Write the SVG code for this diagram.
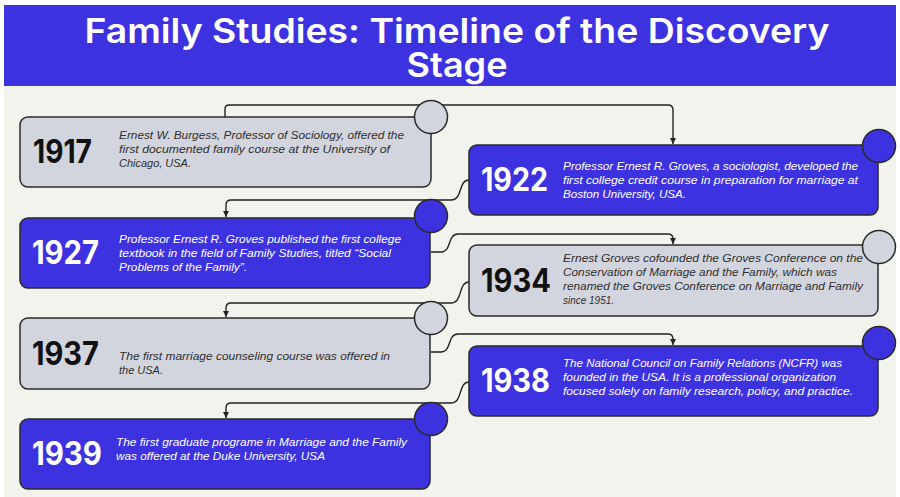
<svg xmlns="http://www.w3.org/2000/svg" width="900" height="497" viewBox="0 0 900 497">
<style>
.title{font-family:"Inter","Liberation Sans",sans-serif;font-weight:600;font-size:34px;fill:#ffffff;text-anchor:middle}
.box{stroke:#2a2a2a;stroke-width:1.5}
.gray{fill:#d3d5de}
.blue{fill:#3d32e0}
.year{font-family:"Inter","Liberation Sans",sans-serif;font-weight:700;font-size:32px}
.desc{font-family:"Liberation Sans","DejaVu Sans",sans-serif;font-style:italic;font-size:11.5px}
.dk{fill:#2e2e2e}
.yk{fill:#111111}
.wt{fill:#ffffff}
.conn{fill:none;stroke:#222222;stroke-width:1.4}
</style>
<defs>
<marker id="arr" markerUnits="userSpaceOnUse" markerWidth="7" markerHeight="7" refX="6" refY="3" orient="auto">
<path d="M0,0 L6,3 L0,6 z" fill="#222222"/>
</marker>
</defs>
<rect x="0" y="0" width="900" height="497" fill="#ffffff"/>
<rect x="4" y="86" width="892" height="411" fill="#f3f3ee"/>
<g id="header">
<rect x="4" y="5" width="892" height="81" fill="#3d32e0"/>
<text class="title"><tspan x="457" y="43" textLength="745" lengthAdjust="spacingAndGlyphs">Family Studies: Timeline of the Discovery</tspan><tspan x="457" y="77" textLength="101" lengthAdjust="spacingAndGlyphs">Stage</tspan></text>
</g>
<g id="connectors">
<path class="conn" marker-end="url(#arr)" d="M225,117 V109 Q225,105 229,105 H668 Q673,105 673,110 V144"/>
<path class="conn" marker-end="url(#arr)" d="M469,180 C458,180 463,200 451,200 H231 Q226,200 226,205 V217"/>
<path class="conn" marker-end="url(#arr)" d="M431,252 H441 C452,252 447,234 458,234 H668 Q673,234 673,239 V244"/>
<path class="conn" marker-end="url(#arr)" d="M469,282 C458,282 463,303 451,303 H231 Q226,303 226,308 V317"/>
<path class="conn" marker-end="url(#arr)" d="M431,352 H441 C452,352 447,334 458,334 H668 Q673,334 673,339 V345"/>
<path class="conn" marker-end="url(#arr)" d="M469,382 C458,382 463,403 451,403 H231 Q226,403 226,408 V418"/>
</g>
<g id="n1917">
<rect class="box gray" x="20" y="117" width="411" height="70" rx="8"/>
<circle class="box gray" cx="431" cy="117" r="16.5"/>
<text class="year yk" x="33" y="163" textLength="59" lengthAdjust="spacingAndGlyphs">1917</text>
<text class="desc dk" x="119" y="139" textLength="285" lengthAdjust="spacingAndGlyphs">Ernest W. Burgess, Professor of Sociology, offered the</text>
<text class="desc dk" x="119" y="153" textLength="271" lengthAdjust="spacingAndGlyphs">first documented family course at the University of</text>
<text class="desc dk" x="119" y="167" textLength="72" lengthAdjust="spacingAndGlyphs">Chicago, USA.</text>
</g>
<g id="n1922">
<rect class="box blue" x="469" y="145" width="409" height="70" rx="8"/>
<circle class="box blue" cx="879" cy="146" r="16.5"/>
<text class="year wt" x="481" y="191" textLength="67" lengthAdjust="spacingAndGlyphs">1922</text>
<text class="desc wt" x="563" y="170" textLength="295" lengthAdjust="spacingAndGlyphs">Professor Ernest R. Groves, a sociologist, developed the</text>
<text class="desc wt" x="563" y="184" textLength="295" lengthAdjust="spacingAndGlyphs">first college credit course in preparation for marriage at</text>
<text class="desc wt" x="563" y="198" textLength="123" lengthAdjust="spacingAndGlyphs">Boston University, USA.</text>
</g>
<g id="n1927">
<rect class="box blue" x="20" y="218" width="410" height="70" rx="8"/>
<circle class="box blue" cx="431" cy="216" r="16.5"/>
<text class="year wt" x="32" y="264" textLength="67" lengthAdjust="spacingAndGlyphs">1927</text>
<text class="desc wt" x="119" y="243" textLength="282" lengthAdjust="spacingAndGlyphs">Professor Ernest R. Groves published the first college</text>
<text class="desc wt" x="119" y="257" textLength="272" lengthAdjust="spacingAndGlyphs">textbook in the field of Family Studies, titled “Social</text>
<text class="desc wt" x="119" y="271" textLength="128" lengthAdjust="spacingAndGlyphs">Problems of the Family”.</text>
</g>
<g id="n1934">
<rect class="box gray" x="469" y="245" width="409" height="71" rx="8"/>
<circle class="box gray" cx="879" cy="247" r="16.5"/>
<text class="year yk" x="481" y="292" textLength="70" lengthAdjust="spacingAndGlyphs">1934</text>
<text class="desc dk" x="563" y="262" textLength="300" lengthAdjust="spacingAndGlyphs">Ernest Groves cofounded the Groves Conference on the</text>
<text class="desc dk" x="563" y="276" textLength="274" lengthAdjust="spacingAndGlyphs">Conservation of Marriage and the Family, which was</text>
<text class="desc dk" x="563" y="290" textLength="300" lengthAdjust="spacingAndGlyphs">renamed the Groves Conference on Marriage and Family</text>
<text class="desc dk" x="563" y="304" textLength="51" lengthAdjust="spacingAndGlyphs">since 1951.</text>
</g>
<g id="n1937">
<rect class="box gray" x="20" y="318" width="410" height="71" rx="8"/>
<circle class="box gray" cx="431" cy="318" r="16.5"/>
<text class="year yk" x="32" y="365" textLength="67" lengthAdjust="spacingAndGlyphs">1937</text>
<text class="desc dk" x="119" y="360" textLength="271" lengthAdjust="spacingAndGlyphs">The first marriage counseling course was offered in</text>
<text class="desc dk" x="119" y="374" textLength="44" lengthAdjust="spacingAndGlyphs">the USA.</text>
</g>
<g id="n1938">
<rect class="box blue" x="469" y="346" width="409" height="70" rx="8"/>
<circle class="box blue" cx="879" cy="343" r="16.5"/>
<text class="year wt" x="481" y="392" textLength="69" lengthAdjust="spacingAndGlyphs">1938</text>
<text class="desc wt" x="563" y="367" textLength="279" lengthAdjust="spacingAndGlyphs">The National Council on Family Relations (NCFR) was</text>
<text class="desc wt" x="563" y="381" textLength="273" lengthAdjust="spacingAndGlyphs">founded in the USA. It is a professional organization</text>
<text class="desc wt" x="563" y="395" textLength="290" lengthAdjust="spacingAndGlyphs">focused solely on family research, policy, and practice.</text>
</g>
<g id="n1939">
<rect class="box blue" x="20" y="419" width="410" height="70" rx="8"/>
<circle class="box blue" cx="431" cy="419" r="16.5"/>
<text class="year wt" x="32" y="465" textLength="70" lengthAdjust="spacingAndGlyphs">1939</text>
<text class="desc wt" x="116" y="446" textLength="291" lengthAdjust="spacingAndGlyphs">The first graduate programe in Marriage and the Family</text>
<text class="desc wt" x="116" y="460" textLength="209" lengthAdjust="spacingAndGlyphs">was offered at the Duke University, USA</text>
</g>
</svg>
